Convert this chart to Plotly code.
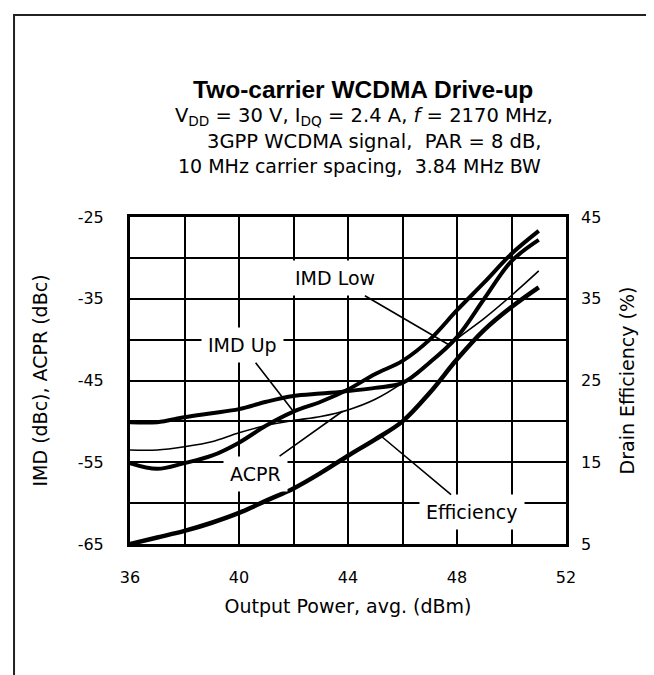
import numpy as np
import plotly.graph_objects as go

# ---- data ----
pout = [36, 37, 38, 39, 40, 41, 42, 43, 44, 45, 46, 47, 48, 49, 50, 51]
imd_low = [-50.1, -50.1, -49.5, -49.0, -48.5, -47.6, -46.9, -46.6, -46.3, -45.9, -45.3, -42.8, -39.7, -35.0, -30.4, -27.8]
imd_up = [-55.1, -55.8, -55.1, -54.2, -52.6, -50.5, -48.8, -47.6, -46.1, -44.2, -42.6, -40.0, -36.4, -33.0, -29.5, -26.7]
acpr = [-53.5, -53.5, -53.1, -52.5, -51.4, -50.5, -49.9, -49.4, -48.6, -47.3, -45.3, -42.7, -39.9, -37.4, -34.6, -31.6]
efficiency = [5.0, 5.8, 6.6, 7.6, 8.8, 10.3, 11.8, 13.7, 15.8, 17.8, 20.0, 23.5, 27.6, 31.2, 34.0, 36.4]

x_ticks = [36, 40, 44, 48, 52]
y_ticks = [-65, -55, -45, -35, -25]
y_ticktext = ["-65", "-55", "-45", "-35", "-25"]
y2_ticks = [5, 15, 25, 35, 45]

# curve labels: (text, label x, label y, x where leader meets curve)
labels_left = [
    ("IMD Low", 43.52, -32.5, 47.7, imd_low),
    ("IMD Up", 40.11, -40.7, 42.0, imd_up),
    ("ACPR", 40.59, -56.4, 43.8, acpr),
]
label_eff = ("Efficiency", 48.55, 8.9, 45.2, efficiency)

FONT = "DejaVu Sans, Verdana, sans-serif"
TFONT = "Liberation Sans, Arial, Helvetica, sans-serif"
NB = "\u00a0"

fig = go.Figure()
fig.add_trace(go.Scatter(x=pout, y=imd_low, mode="lines", line=dict(color="black", width=4, shape="spline"), name="IMD Low"))
fig.add_trace(go.Scatter(x=pout, y=imd_up, mode="lines", line=dict(color="black", width=4, shape="spline"), name="IMD Up"))
fig.add_trace(go.Scatter(x=pout, y=acpr, mode="lines", line=dict(color="black", width=1.6, shape="spline"), name="ACPR"))
fig.add_trace(go.Scatter(x=pout, y=efficiency, mode="lines", yaxis="y2", line=dict(color="black", width=4.5, shape="spline"), name="Efficiency"))

for text, lx, ly, tx, series in labels_left:
    ty = float(np.interp(tx, pout, series))
    fig.add_annotation(x=tx, y=ty, xref="x", yref="y", ax=lx, ay=ly, axref="x", ayref="y",
                       text=text, showarrow=True, arrowhead=0, arrowwidth=1.6, arrowcolor="black",
                       font=dict(family=FONT, size=19, color="black"), bgcolor="white", borderpad=6)
text, lx, ly, tx, series = label_eff
ty = float(np.interp(tx, pout, series))
fig.add_annotation(x=tx, y=ty, xref="x", yref="y2", ax=lx, ay=ly, axref="x", ayref="y2",
                   text=text, showarrow=True, arrowhead=0, arrowwidth=1.6, arrowcolor="black",
                   font=dict(family=FONT, size=19, color="black"), bgcolor="white", borderpad=6)

# title block
fig.add_annotation(x=0.14, y=1.39, xref="paper", yref="paper", xanchor="left", yanchor="middle",
                   text="<b>Two-carrier WCDMA Drive-up</b>", showarrow=False,
                   font=dict(family=TFONT, size=24.5, color="black"))
sub_lines = [
    (0.0986, 1.306, 19.5, "V<sub>DD</sub> = 30 V, I<sub>DQ</sub> = 2.4 A, <i>f</i> = 2170 MHz,"),
    (0.172, 1.232, 19.5, "3GPP WCDMA signal," + NB + " PAR = 8 dB,"),
    (0.1055, 1.157, 19, "10 MHz carrier spacing," + NB + " 3.84 MHz BW"),
]
for sx, sy, fs, st in sub_lines:
    fig.add_annotation(x=sx, y=sy, xref="paper", yref="paper", xanchor="left", yanchor="middle",
                       text=st, showarrow=False, font=dict(family=FONT, size=fs, color="black"))

# outer frame
fig.add_shape(type="rect", xref="paper", yref="paper", x0=-0.266, x1=1.5, y0=-0.7, y1=1.618,
              line=dict(color="#222", width=2), layer="below")

fig.update_layout(
    width=654, height=675,
    margin=dict(l=122, r=96, t=209, b=139),
    paper_bgcolor="white", plot_bgcolor="white",
    showlegend=False,
    font=dict(family=FONT, size=16, color="black"),
    xaxis=dict(range=[36, 52], tickvals=x_ticks, ticks="", ticklabelstandoff=17,
               showgrid=True, gridcolor="black", gridwidth=2,
               minor=dict(dtick=2, showgrid=True, gridcolor="black", gridwidth=2),
               showline=True, linecolor="black", linewidth=3, mirror=True, zeroline=False,
               title=dict(text="Output Power, avg. (dBm)", font=dict(size=19), standoff=14),
               tickfont=dict(size=16)),
    yaxis=dict(range=[-65, -25], tickvals=y_ticks, ticktext=y_ticktext, ticks="", ticklabelstandoff=20,
               showgrid=True, gridcolor="black", gridwidth=2,
               minor=dict(dtick=5, showgrid=True, gridcolor="black", gridwidth=2),
               showline=True, linecolor="black", linewidth=3, mirror=True, zeroline=False,
               title=dict(text="IMD (dBc), ACPR (dBc)", font=dict(size=19), standoff=26),
               tickfont=dict(size=16)),
    yaxis2=dict(range=[5, 45], tickvals=y2_ticks, overlaying="y", side="right", ticks="",
                ticklabelstandoff=14, showgrid=False, zeroline=False, showline=False,
                title=dict(text="Drain Efficiency (%)", font=dict(size=19), standoff=20),
                tickfont=dict(size=16)),
)

fig.write_html("out.html")
